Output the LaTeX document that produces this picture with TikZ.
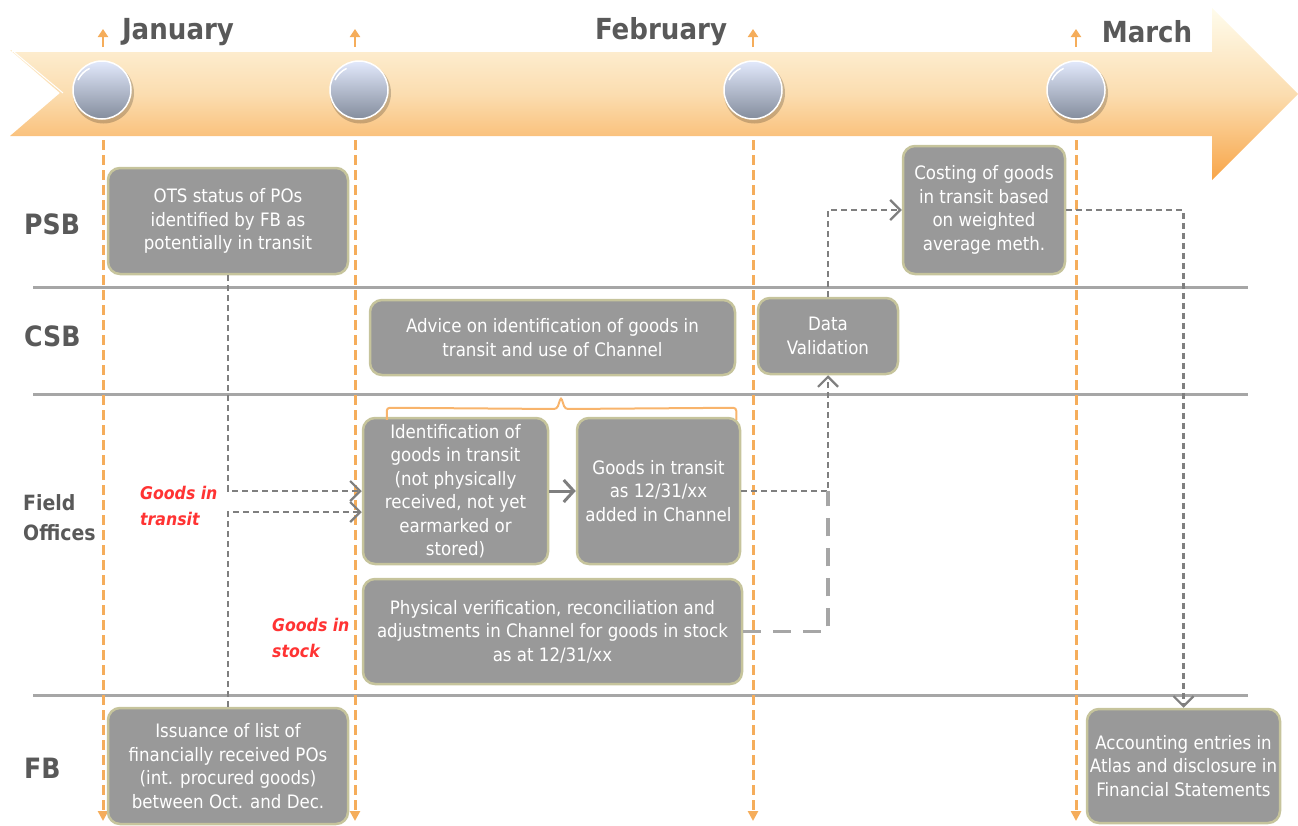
\documentclass[tikz,border=0pt]{standalone}
\usepackage{fontspec}
\setmainfont{DejaVu Sans Condensed}
\usetikzlibrary{arrows.meta,calc}
\definecolor{boxfill}{HTML}{999999}
\definecolor{boxedge}{HTML}{C6C49C}
\definecolor{lanegray}{HTML}{A6A6A6}
\definecolor{labgray}{HTML}{595959}
\definecolor{vorange}{HTML}{F5AD5B}
\definecolor{cgray}{HTML}{7F7F7F}
\definecolor{redlab}{HTML}{FF3333}
\definecolor{braceor}{HTML}{F8B46C}
\definecolor{bandtop}{HTML}{FFFCEC}
\definecolor{bandmid}{HTML}{FBDDB0}
\definecolor{bandbot}{HTML}{F8A548}
\definecolor{balltop}{HTML}{E2E9FC}
\definecolor{ballbot}{HTML}{848D9D}
\tikzset{
  box/.style={draw=boxedge, fill=boxfill, line width=2.5pt, rounded corners=12pt,
    text=white, align=center, font=\fontsize{18.5}{23.5}\selectfont, inner sep=2pt},
  lane/.style={draw=lanegray, line width=3pt},
  lanelab/.style={anchor=west, text=labgray, font=\bfseries\fontsize{28}{30}\selectfont, inner sep=0pt},
  month/.style={text=labgray, font=\bfseries\fontsize{29}{32}\selectfont, inner sep=0pt},
  vline/.style={draw=vorange, line width=3pt, dash pattern=on 10pt off 5pt,
    -{Triangle[length=10pt,width=10pt]}},
  uparrow/.style={draw=vorange, line width=2.5pt, -{Triangle[length=8pt,width=10pt]}},
  conn/.style={draw=cgray, line width=2.2pt, dash pattern=on 6pt off 4pt,
    -{Straight Barb[length=10pt,width=20pt,line width=2.2pt]}},
  solidconn/.style={draw=cgray, line width=3pt, -{Straight Barb[length=10pt,width=22pt,line width=3pt]}},
  bigdash/.style={draw=lanegray, line width=3.5pt, dash pattern=on 18pt off 12pt},
  redlabel/.style={text=redlab, align=left, anchor=west, inner sep=0pt,
    font=\bfseries\itshape\fontsize{17.5}{26}\selectfont},
  timeball/.style={top color=balltop, bottom color=ballbot, draw=white, line width=1.5pt}
}
\begin{document}
\begin{tikzpicture}[x=1pt,y=-1pt]
\useasboundingbox (0,0) rectangle (1298,825);
% timeline arrow
\path[top color=bandtop, bottom color=bandbot, middle color=bandmid]
  (10,50) -- (1212,50) -- (1212,8) -- (1298,94) -- (1212,180) -- (1212,136) -- (10,136) -- (60,93) -- cycle;
\draw[white, line width=1.5pt] (12,51) -- (1212,51);
\draw[white, line width=1pt] (14,52) -- (63,93);
% balls
\foreach \n/\x in {b1/102, b2/359, b3/753, b4/1076}{
  \fill[black, opacity=0.2] (\x+1.5,93) circle (30.5);
  \path[timeball] (\x,90) circle (29);
  \draw[white, line width=1.5pt] (\x,90) ++(-24,-10) arc[start angle=205, end angle=245, radius=24];
  \coordinate (\n) at (\x,90);
}
% month labels
\node[month] (jan) at (178,32) {January};
\node[month] (feb) at (661,32) {February};
\node[month] (mar) at (1147,32) {March};
% lanes
\coordinate (l1a) at (33,287); \coordinate (l1b) at (1248,287);
\coordinate (l2a) at (33,394); \coordinate (l2b) at (1248,394);
\coordinate (l3a) at (33,695); \coordinate (l3b) at (1248,695);
\draw[lane] (l1a) -- (l1b);
\draw[lane] (l2a) -- (l2b);
\draw[lane] (l3a) -- (l3b);
\node[lanelab] (psb) at (24,224) {PSB};
\node[lanelab] (csb) at (24,336) {CSB};
\node[lanelab] (fb) at (24,768) {FB};
\node[lanelab, align=left, font=\bfseries\fontsize{21}{30}\selectfont] (fo) at (23,518) {Field\\Offices};
% vertical lines
\foreach \n/\x in {1/103, 2/355, 3/753, 4/1076}{
  \coordinate (vt\n) at (\x,140); \coordinate (vb\n) at (\x,821);
  \coordinate (ut\n) at (\x,29); \coordinate (ub\n) at (\x,47);
  \draw[vline] (vt\n) -- (vb\n);
  \draw[uparrow] (ub\n) -- (ut\n);
}
% boxes
\node[box, minimum width=240, minimum height=106] (ots) at (228,221)
  {OTS status of POs\\identified by FB as\\potentially in transit};
\node[box, minimum width=365, minimum height=75] (adv) at (552.5,337.5)
  {Advice on identification of goods in\\transit and use of Channel};
\node[box, minimum width=140, minimum height=76] (data) at (828,336)
  {Data\\Validation};
\node[box, minimum width=162, minimum height=128] (cost) at (984,210)
  {Costing of goods\\in transit based\\on weighted\\average meth.};
\node[box, minimum width=185, minimum height=146] (ident) at (455.5,491)
  {Identification of\\goods in transit\\(not physically\\received, not yet\\earmarked or\\stored)};
\node[box, minimum width=163, minimum height=146] (git) at (658.5,491)
  {Goods in transit\\as 12/31/xx\\added in Channel};
\node[box, minimum width=379, minimum height=105] (phys) at (552.5,631.5)
  {Physical verification, reconciliation and\\adjustments in Channel for goods in stock\\as at 12/31/xx};
\node[box, minimum width=240, minimum height=116] (iss) at (228,766)
  {Issuance of list of\\financially received POs\\(int. procured goods)\\between Oct. and Dec.};
\node[box, minimum width=193, minimum height=114] (acc) at (1183.5,766)
  {Accounting entries in\\Atlas and disclosure in\\Financial Statements};
% brace
\draw[braceor, line width=2pt, rounded corners=3pt]
  ($(ident.north west)+(25,3)$) -- ++(0,-12) -- (557,409) -- (561,397) -- (565,409) -- ($(git.north east)+(-5,-9)$) -- ($(git.north east)+(-5,3)$);
% connectors
\coordinate (in2) at ($(ident.west)+(0,21)$);
\coordinate (join) at (data.south |- git.east);
\draw[conn] (ots.south) |- (ident.west);
\draw[conn] (iss.north) |- (in2);
\draw[solidconn] (ident.east) -- (git.west);
\draw[conn] (git.east) -| (data.south);
\draw[bigdash] (phys.east) -| (join);
\draw[conn] (data.north) |- (cost.west);
\draw[conn] (cost.east) -| (acc.north);
% red labels
\node[redlabel] (git-lab) at (140,506) {Goods in\\transit};
\node[redlabel] (gis-lab) at (272,638) {Goods in\\stock};
\end{tikzpicture}
\end{document}
